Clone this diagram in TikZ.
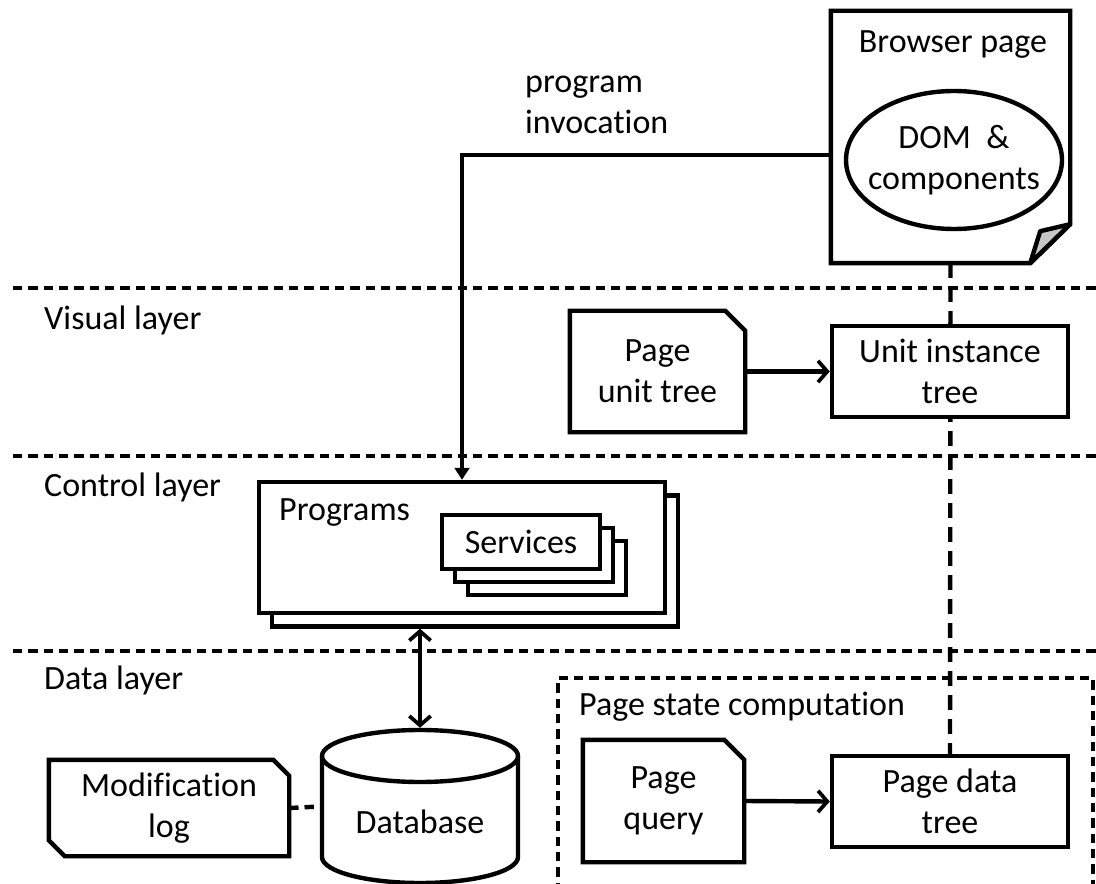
\documentclass[tikz,border=0pt]{standalone}
\usepackage{fontspec}
\setmainfont{Carlito}[Ligatures=NoCommon]
\usetikzlibrary{arrows.meta,shapes.geometric,backgrounds}
\begin{document}
\begin{tikzpicture}[x=0.75pt,y=-0.75pt,
  font=\fontsize{25.5}{31}\selectfont,
  line width=3.3pt,
  box/.style={draw, fill=white, line width=3.3pt, inner sep=0pt, align=center},
  ghost/.style={inner sep=0pt, align=center},
  txt/.style={inner sep=0pt, align=left},
  layerline/.style={line width=3.3pt, dash pattern=on 7pt off 4.5pt},
  vline/.style={line width=3.3pt, dash pattern=on 11pt off 7pt},
  openarrow/.style={-{Straight Barb[length=7pt,width=16pt,line width=2.8pt]}},
  openboth/.style={{Straight Barb[length=7pt,width=16pt,line width=2.8pt]}-{Straight Barb[length=7pt,width=16pt,line width=2.8pt]}},
  filledarrow/.style={-{Triangle[length=9pt,width=11pt]}}
]
\useasboundingbox (0,0) rectangle (1096,884);

% Browser page
\node[ghost, minimum width=176.25pt, minimum height=186pt] (browser) at (950.5,137) {};
\draw[line join=miter] (browser.north west) -- (browser.north east) -- ([yshift=29.25pt]browser.south east)
  -- ([xshift=-30pt]browser.south east) -- (browser.south west) -- cycle;
\draw[fill=black!22, line join=round] ([xshift=-30pt]browser.south east) -- ([xshift=-22.5pt,yshift=24pt]browser.south east)
  -- ([yshift=29.25pt]browser.south east) -- cycle;
\node[txt] (bptitle) at (953,45) {Browser page};
\node[ghost, minimum width=162pt, minimum height=103.5pt] (dom) at (954,160) {DOM\ \ \&\\components};
\draw (dom.center) ellipse[x radius=81pt, y radius=51.75pt];

% invocation label
\node[txt, anchor=west] (inv) at (523,105) {program\\invocation};

% layer labels
\node[txt, anchor=west] (lvis) at (42,320) {Visual layer};
\node[txt, anchor=west] (lctl) at (42,487) {Control layer};
\node[txt, anchor=west] (ldat) at (42,680) {Data layer};

% Visual layer boxes
\node[ghost, minimum width=128.25pt, minimum height=87.75pt] (put) at (657.5,371.5) {Page\\unit tree};
\draw[line join=miter] (put.north west) -- ([xshift=-15pt]put.north east) -- ([yshift=-15pt]put.north east)
  -- (put.south east) -- (put.south west) -- cycle;
\node[box, minimum width=177pt, minimum height=68.25pt] (uit) at (950,371.5) {Unit instance\\tree};
\draw[openarrow] (put.east) -- (uit.west);

% Programs
\node[box, minimum width=304.5pt, minimum height=98.25pt] (progback) at (475,561) {};
\node[box, minimum width=304.5pt, minimum height=98.25pt] (programs) at (462,547.5) {};
\node[txt, anchor=west] (proglabel) at (277,513) {Programs};
\node[box, minimum width=118.5pt, minimum height=40.5pt] (serv3) at (547,568) {};
\node[box, minimum width=118.5pt, minimum height=40.5pt] (serv2) at (534,555) {};
\node[box, minimum width=118.5pt, minimum height=40.5pt] (serv1) at (521,542) {Services};

% invocation arrow
\draw[filledarrow] ([yshift=-13.5pt]browser.west) -| (programs.north);

% Database
\node[ghost, minimum width=147pt, minimum height=114.75pt] (db) at (420,806.5) {};
\draw[fill=white] (322,756) -- (322,857) arc[start angle=180,end angle=360,x radius=73.5pt,y radius=19.5pt] -- (518,756);
\draw[fill=white] (420,756) ellipse[x radius=73.5pt, y radius=19.5pt];
\node[txt] (dblabel) at (420,822) {Database};
\draw[openboth] (db.north |- progback.south) -- (db.north);

% Modification log
\node[ghost, minimum width=177pt, minimum height=69pt] (modlog) at (169,808) {Modification\\log};
\draw[line join=miter] (modlog.north west) -- ([xshift=-12pt]modlog.north east) -- ([yshift=-12pt]modlog.north east)
  -- (modlog.south east) -- ([xshift=12pt]modlog.south west) -- ([yshift=12pt]modlog.south west) -- cycle;
\draw[layerline] (modlog.east) -- (db.west);

% Page state computation
\draw[layerline] (558,892) -- (558,678) -- (1093,678) -- (1093,892);
\node[txt, anchor=west] (pslabel) at (577,707) {Page state computation};
\node[ghost, minimum width=117.75pt, minimum height=88.5pt] (pq) at (663.5,801) {Page\\query};
\draw[line join=miter] (pq.north west) -- ([xshift=-15pt]pq.north east) -- ([yshift=-15pt]pq.north east)
  -- (pq.south east) -- (pq.south west) -- cycle;
\node[box, minimum width=177pt, minimum height=68.25pt] (pdt) at (950,801.5) {Page data\\tree};
\draw[openarrow] (pq.east) -- (pdt.west);

% background lines
\begin{scope}[on background layer]
  \draw[layerline] (13,288) -- (1096,288);
  \draw[layerline] (13,456) -- (1096,456);
  \draw[layerline] (13,651) -- (1096,651);
  \draw[vline] (browser.south) -- (pdt.north);
\end{scope}
\end{tikzpicture}
\end{document}
